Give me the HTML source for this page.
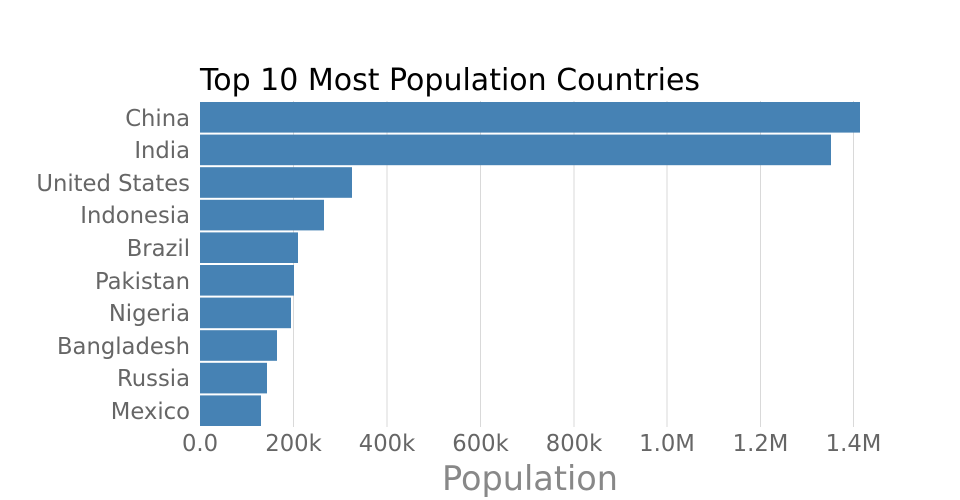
<!DOCTYPE html>
<html><head><meta charset="utf-8"><style>
html,body{margin:0;padding:0;background:#fff;}
svg{display:block;}
text{font-family:"DejaVu Sans","Liberation Sans",sans-serif;}
</style></head><body>
<svg width="960" height="500" viewBox="0 0 960 500" xmlns="http://www.w3.org/2000/svg">
<rect width="960" height="500" fill="#fff"/>
<g stroke="#d9d9d9" stroke-width="1">
<line x1="293.5" y1="101" x2="293.5" y2="427"/>
<line x1="387" y1="101" x2="387" y2="427"/>
<line x1="480.5" y1="101" x2="480.5" y2="427"/>
<line x1="574" y1="101" x2="574" y2="427"/>
<line x1="667" y1="101" x2="667" y2="427"/>
<line x1="760.5" y1="101" x2="760.5" y2="427"/>
<line x1="853.5" y1="101" x2="853.5" y2="427"/>
</g>
<g fill="#4682b4">
<rect x="200" y="102" width="660" height="30.6"/>
<rect x="200" y="134.6" width="631" height="30.6"/>
<rect x="200" y="167.2" width="152" height="30.6"/>
<rect x="200" y="199.8" width="124" height="30.6"/>
<rect x="200" y="232.4" width="98" height="30.6"/>
<rect x="200" y="265" width="94" height="30.6"/>
<rect x="200" y="297.6" width="91" height="30.6"/>
<rect x="200" y="330.2" width="77" height="30.6"/>
<rect x="200" y="362.8" width="67" height="30.6"/>
<rect x="200" y="395.4" width="61" height="30.6"/>
</g>
<text x="200" y="90" font-size="30" fill="#000">Top 10 Most Population Countries</text>
<g font-size="22.7" fill="#666" text-anchor="end">
<text x="190" y="126">China</text>
<text x="190" y="158">India</text>
<text x="190" y="191">United States</text>
<text x="190" y="223">Indonesia</text>
<text x="190" y="256">Brazil</text>
<text x="190" y="289">Pakistan</text>
<text x="190" y="321">Nigeria</text>
<text x="190" y="354">Bangladesh</text>
<text x="190" y="386">Russia</text>
<text x="190" y="419">Mexico</text>
</g>
<g font-size="22.7" fill="#666" text-anchor="middle">
<text x="200" y="451">0.0</text>
<text x="293.5" y="451">200k</text>
<text x="387" y="451">400k</text>
<text x="480.5" y="451">600k</text>
<text x="574" y="451">800k</text>
<text x="667" y="451">1.0M</text>
<text x="760.5" y="451">1.2M</text>
<text x="853.5" y="451">1.4M</text>
</g>
<text x="530" y="490" font-size="33.5" fill="#888" text-anchor="middle">Population</text>
</svg>
</body></html>
